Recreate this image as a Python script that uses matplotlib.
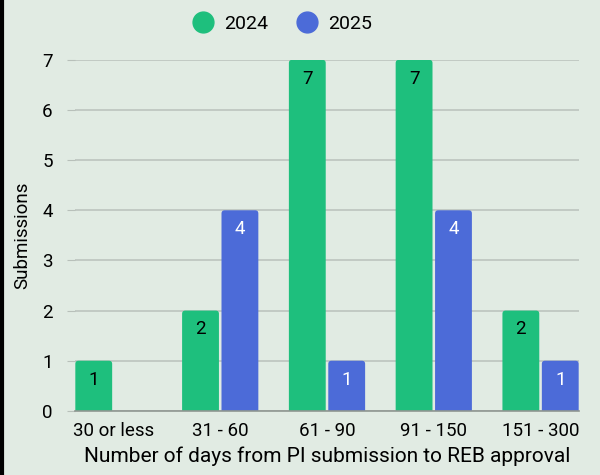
import matplotlib
matplotlib.use("Agg")
import matplotlib.pyplot as plt
from matplotlib.lines import Line2D
from matplotlib.patches import FancyBboxPatch
import numpy as np

categories = ["30 or less", "31 - 60", "61 - 90", "91 - 150", "151 - 300"]
vals_2024 = [1, 2, 7, 7, 2]
vals_2025 = [0, 4, 1, 4, 1]
series_names = ["2024", "2025"]

GREEN = "#1ebf7d"
BLUE = "#4c6bd8"
BG = "#e1ebe3"

plt.rcParams["font.family"] = ["Roboto", "DejaVu Sans"]

fig = plt.figure(figsize=(6, 4.75), dpi=100, facecolor=BG)
ax = fig.add_axes([0.125, 0.135, 0.84, 0.739])
ax.set_facecolor(BG)

x = np.arange(len(categories))
w = 0.345
b1 = ax.bar(x - w / 2 - 0.012, vals_2024, w, color="none", zorder=3)
b2 = ax.bar(x + w / 2 + 0.012, vals_2025, w, color="none", zorder=3)


def round_tops(bars, color):
    # redraw bars with slightly rounded top corners
    for p in bars:
        h = p.get_height()
        if h <= 0:
            continue
        fb = FancyBboxPatch((p.get_x(), -0.2), p.get_width(), h + 0.2,
                            boxstyle="round,pad=0,rounding_size=0.03",
                            mutation_aspect=2.1, facecolor=color,
                            edgecolor="none", zorder=3)
        ax.add_patch(fb)


round_tops(b1, GREEN)
round_tops(b2, BLUE)

lab1 = [str(v) if v else "" for v in vals_2024]
lab2 = [str(v) if v else "" for v in vals_2025]
ax.bar_label(b1, labels=lab1, padding=-20, color="black", fontsize=13.5, zorder=4)
ax.bar_label(b2, labels=lab2, padding=-20, color="white", fontsize=13.5, zorder=4)

ax.set_xlim(-0.36, 4.36)
ax.set_ylim(0, 7)
ax.set_yticks(range(8))
ax.set_xticks(x)
ax.set_xticklabels(categories)
ax.tick_params(axis="x", length=0, labelsize=13.5, pad=8)
ax.tick_params(axis="y", length=6, color="#b8c0ba", labelsize=13.5, pad=10)
ax.grid(axis="y", color="#bcc4be", linewidth=1.2, zorder=0)
for s in ["top", "right", "left"]:
    ax.spines[s].set_visible(False)
ax.spines["bottom"].set_color("#8f9691")
ax.spines["bottom"].set_linewidth(1.2)
ax.spines["bottom"].set_zorder(5)

ax.set_xlabel("Number of days from PI submission to REB approval", fontsize=15, labelpad=5)
ax.set_ylabel("Submissions", fontsize=13.5, labelpad=8)

handles = [Line2D([], [], marker="o", linestyle="", markersize=15, color=GREEN),
           Line2D([], [], marker="o", linestyle="", markersize=15, color=BLUE)]
fig.legend(handles, series_names, loc="upper center", bbox_to_anchor=(0.463, 1.005), ncol=2,
           frameon=False, fontsize=14, handletextpad=0.1, columnspacing=1.0)

fig.add_artist(Line2D([0.003, 0.003], [0, 1], transform=fig.transFigure, color="black", linewidth=3))

fig.savefig("out.png", dpi=100, facecolor=BG)
